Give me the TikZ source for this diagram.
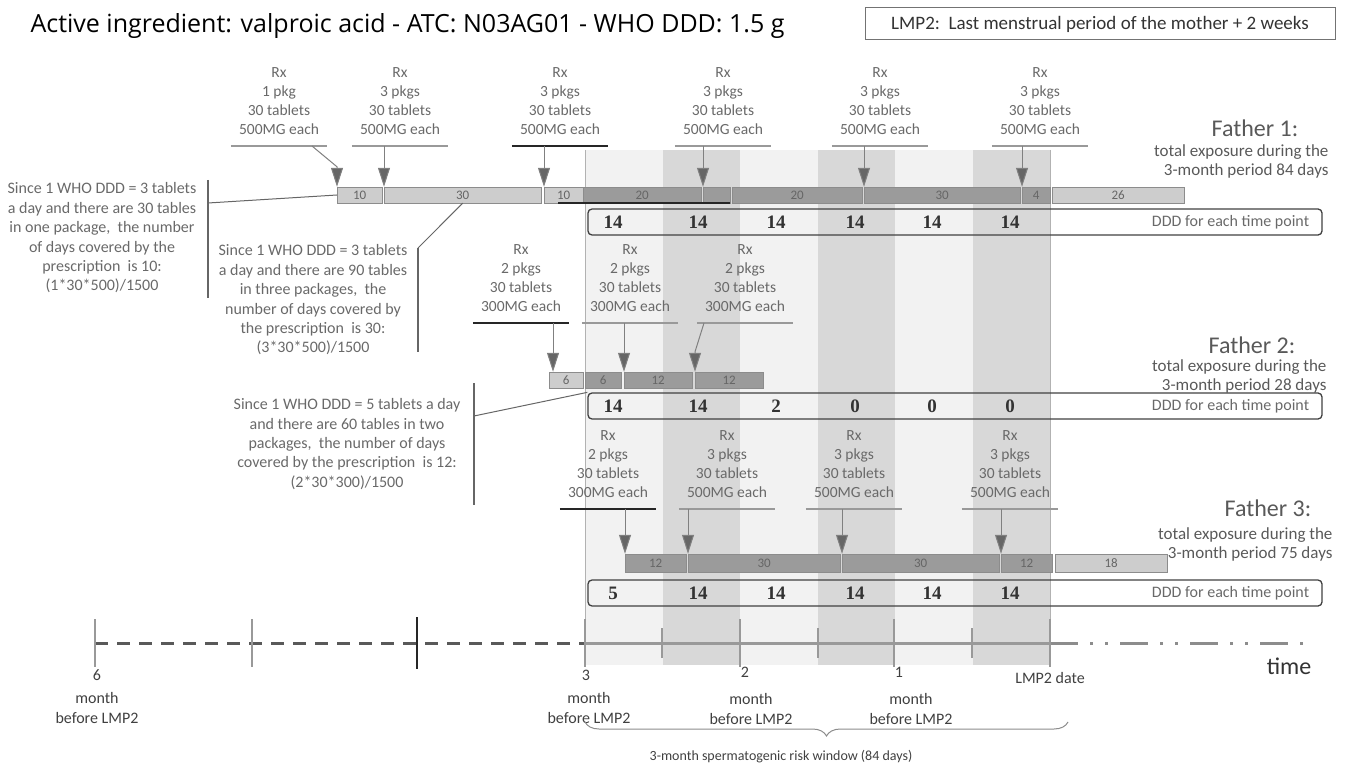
\documentclass[tikz,border=0pt]{standalone}
\usepackage{fontspec}
\setmainfont{Carlito}
\newfontfamily\titlefont{Open Sans}
\newfontfamily\numfont{Liberation Serif}
\usetikzlibrary{arrows.meta, positioning, decorations.pathreplacing}
\definecolor{bandlight}{RGB}{242,242,242}
\definecolor{bandshade}{RGB}{216,216,216}
\definecolor{barlight}{RGB}{205,205,205}
\definecolor{bardark}{RGB}{155,155,155}
\definecolor{textgray}{RGB}{105,105,105}

\begin{document}
\begin{tikzpicture}[x=1pt, y=-1pt,
  rxlabel/.style={font=\fontsize{15.5}{19}\selectfont, text=textgray, align=center, anchor=south,
                  inner xsep=0pt, inner ysep=11pt, minimum width=96pt},
  rxline/.style={draw=black!40, line width=1.2pt},
  rxlinedark/.style={draw=black!85, line width=1.2pt},
  rxarrow/.style={draw=black!50, line width=1pt, -{Triangle[width=12pt, length=19pt, fill=black!60]}},
  seglight/.style={draw=black!45, fill=barlight, anchor=west, minimum height=16pt, inner sep=0pt,
                   font=\fontsize{13}{13}\selectfont, text=black!60},
  segdark/.style={seglight, fill=bardark},
  dddbox/.style={draw=black!75, line width=1.3pt, rounded corners=4pt, minimum width=734pt,
                 minimum height=26pt, inner sep=0pt},
  dddval/.style={font=\numfont\bfseries\fontsize{19}{19}\selectfont, text=black!80},
  dddtxt/.style={font=\fontsize{16}{16}\selectfont, text=textgray, anchor=east},
  note/.style={font=\fontsize{16}{19.4}\selectfont, text=textgray, align=center},
  noteline/.style={draw=black!60, line width=1.2pt},
  fathertitle/.style={font=\fontsize{24}{24}\selectfont, text=black!65},
  fathertxt/.style={font=\fontsize{17}{19}\selectfont, text=black!65, align=right, anchor=east},
  ticknum/.style={font=\fontsize{16}{16}\selectfont, text=black!75},
  ticklabel/.style={font=\fontsize{16}{20}\selectfont, text=black!75, align=center}
]
\useasboundingbox (0,0) rectangle (1346,767);

% risk window bands
\foreach \i in {0,...,5} {
  \pgfmathsetmacro{\bx}{585+77.5*\i}
  \ifodd\i \def\bc{bandshade}\else\def\bc{bandlight}\fi
  \fill[\bc] (\bx,150) rectangle ++(77.5,515);
}
\draw[black!30, line width=1pt] (585,150) -- (585,665);
\draw[black!30, line width=1pt] (1050,150) -- (1050,665);

\node[anchor=base west, font=\titlefont\fontsize{25}{25}\selectfont] (title) at (27,33)
  {Active ingredient: valproic acid - ATC: N03AG01 - WHO DDD: 1.5 g};
\node[draw=black!55, line width=1pt, minimum width=470pt, minimum height=32pt, inner sep=0pt,
      font=\fontsize{19}{19}\selectfont, text=black!80] (lmp) at (1100,24)
  {LMP2:\ \ Last menstrual period of the mother + 2 weeks};

% father 1
\node[rxlabel] (rx11) at (279,146) {Rx\\1 pkg\\30 tablets\\500MG each};
\node[rxlabel] (rx12) at (400,146) {Rx\\3 pkgs\\30 tablets\\500MG each};
\node[rxlabel] (rx13) at (560,146) {Rx\\3 pkgs\\30 tablets\\500MG each};
\node[rxlabel] (rx14) at (723,146) {Rx\\3 pkgs\\30 tablets\\500MG each};
\node[rxlabel] (rx15) at (880,146) {Rx\\3 pkgs\\30 tablets\\500MG each};
\node[rxlabel] (rx16) at (1040,146) {Rx\\3 pkgs\\30 tablets\\500MG each};
\foreach \n in {rx11,rx12,rx14,rx15,rx16}
  \draw[rxline] (\n.south west) -- (\n.south east);
\draw[rxlinedark] (rx13.south west) -- (rx13.south east);

\node[seglight, minimum width=45pt] (f1a) at (337,195) {10};
\node[seglight, minimum width=157pt] (f1b) at (384,195) {30};
\node[seglight, minimum width=39pt] (f1c) at (544,195) {10};
\node[segdark, minimum width=118pt] (f1d) at (583,195) {20};
\node[segdark, minimum width=27pt] (f1e) at (703,195) {};
\node[segdark, minimum width=130pt] (f1f) at (732,195) {20};
\node[segdark, minimum width=156pt] (f1g) at (864,195) {30};
\node[segdark, minimum width=28pt] (f1h) at (1022,195) {4};
\node[seglight, minimum width=132pt] (f1i) at (1052,195) {26};
\draw[black!85, line width=1.5pt] ([xshift=14pt]f1c.south west) -- (f1e.south east);

\draw[rxarrow] ([xshift=33pt]rx11.south) -- ([yshift=20pt]f1a.north west) -- (f1a.north west);
\draw[rxarrow] (f1b.north west |- rx12.south) -- (f1b.north west);
\draw[rxarrow] (f1c.north west |- rx13.south) -- (f1c.north west);
\draw[rxarrow] (f1e.north west |- rx14.south) -- (f1e.north west);
\draw[rxarrow] (f1g.north west |- rx15.south) -- (f1g.north west);
\draw[rxarrow] (f1h.north west |- rx16.south) -- (f1h.north west);

\node[dddbox] (ddd1) at (955,222) {};
\foreach \x/\v [count=\i] in {613/14,698/14,776/14,855/14,932/14,1010/14}
  \node[dddval] (v1\i) at (\x,222) {\v};
\node[dddtxt] (ddd1t) at ([xshift=-10pt]ddd1.east) {DDD for each time point};

\node[fathertitle] (fa1) at (1255,128) {Father 1:};
\node[fathertxt] (fa1t) at (1332,161) {total exposure during the\\3-month period 84 days};

% notes on the left
\node[note] (annA) at (102,238) {Since 1 WHO DDD = 3 tablets\\a day and there are 30 tables\\in one package,\ \ the number\\of days covered by the\\prescription\ \ is 10:\\(1*30*500)/1500};
\coordinate (annAtop) at (208,180);
\coordinate (annAbot) at (208,298);
\coordinate (annAtap) at (208,203);
\draw[noteline] (annAtop) -- (annAbot);
\draw[noteline, line width=1pt] (annAtap) -- (f1a.west);

\node[note] (annB) at (313,300) {Since 1 WHO DDD = 3 tablets\\a day and there are 90 tables\\in three packages,\ \ the\\number of days covered by\\the prescription\ \ is 30:\\(3*30*500)/1500};
\coordinate (annBtop) at (418,248);
\coordinate (annBbot) at (418,352);
\draw[noteline] (annBtop) -- (annBbot);
\draw[noteline, line width=1pt] (annBtop) -- (f1b.south);

% father 2
\node[rxlabel] (rx21) at (521,323) {Rx\\2 pkgs\\30 tablets\\300MG each};
\node[rxlabel] (rx22) at (630,323) {Rx\\2 pkgs\\30 tablets\\300MG each};
\node[rxlabel] (rx23) at (745,323) {Rx\\2 pkgs\\30 tablets\\300MG each};
\draw[rxlinedark] (rx21.south west) -- (rx21.south east);
\draw[rxline] (rx22.south west) -- (rx22.south east);
\draw[rxline] (rx23.south west) -- (rx23.south east);

\node[seglight, minimum width=34pt] (f2a) at (549,380) {6};
\node[segdark, minimum width=36pt] (f2b) at (585,380) {6};
\node[segdark, minimum width=68pt] (f2c) at (624,380) {12};
\node[segdark, minimum width=68pt] (f2d) at (695,380) {12};

\coordinate (f2tip) at ([xshift=4pt]f2a.north west);
\draw[rxarrow] (f2tip |- rx21.south) -- (f2tip);
\draw[rxarrow] (f2c.north west |- rx22.south) -- (f2c.north west);
\draw[rxarrow] ([xshift=-41pt]rx23.south) -- ([yshift=20pt]f2d.north west) -- (f2d.north west);

\node[dddbox] (ddd2) at (955,406) {};
\foreach \x/\v [count=\i] in {613/14,698/14,776/2,855/0,932/0,1010/0}
  \node[dddval] (v2\i) at (\x,406) {\v};
\node[dddtxt] (ddd2t) at ([xshift=-10pt]ddd2.east) {DDD for each time point};

\node[fathertitle] (fa2) at (1252,345) {Father 2:};
\node[fathertxt] (fa2t) at (1330,376) {total exposure during the\\3-month period 28 days};

\node[note] (annC) at (347,444) {Since 1 WHO DDD = 5 tablets a day\\and there are 60 tables in two\\packages,\ \ the number of days\\covered by the prescription\ \ is 12:\\(2*30*300)/1500};
\coordinate (annCtop) at (474,383);
\coordinate (annCbot) at (474,505);
\coordinate (annCtap) at (474,416);
\draw[noteline] (annCtop) -- (annCbot);
\draw[noteline, line width=1pt] (annCtap) -- (ddd2.north west);

% father 3
\node[rxlabel] (rx31) at (608,509) {Rx\\2 pkgs\\30 tablets\\300MG each};
\node[rxlabel] (rx32) at (727,509) {Rx\\3 pkgs\\30 tablets\\500MG each};
\node[rxlabel] (rx33) at (854,509) {Rx\\3 pkgs\\30 tablets\\500MG each};
\node[rxlabel] (rx34) at (1010,509) {Rx\\3 pkgs\\30 tablets\\500MG each};
\draw[rxlinedark] (rx31.south west) -- (rx31.south east);
\foreach \n in {rx32,rx33,rx34}
  \draw[rxline] (\n.south west) -- (\n.south east);

\node[segdark, minimum width=61pt, minimum height=18pt] (f3a) at (625,563) {12};
\node[segdark, minimum width=152pt, minimum height=18pt] (f3b) at (688,563) {30};
\node[segdark, minimum width=157pt, minimum height=18pt] (f3c) at (842,563) {30};
\node[segdark, minimum width=51pt, minimum height=18pt] (f3d) at (1001,563) {12};
\node[seglight, minimum width=112pt, minimum height=18pt] (f3e) at (1055,563) {18};

\draw[rxarrow] (f3a.north west |- rx31.south) -- (f3a.north west);
\draw[rxarrow] (f3b.north west |- rx32.south) -- (f3b.north west);
\draw[rxarrow] (f3c.north west |- rx33.south) -- (f3c.north west);
\draw[rxarrow] (f3d.north west |- rx34.south) -- (f3d.north west);

\node[dddbox] (ddd3) at (955,593) {};
\foreach \x/\v [count=\i] in {613/5,698/14,776/14,855/14,932/14,1010/14}
  \node[dddval] (v3\i) at (\x,593) {\v};
\node[dddtxt] (ddd3t) at ([xshift=-10pt]ddd3.east) {DDD for each time point};

\node[fathertitle] (fa3) at (1268,508) {Father 3:};
\node[fathertxt] (fa3t) at (1336,544) {total exposure during the\\3-month period 75 days};

% time axis
\coordinate (ax6) at (95,643);
\coordinate (ax3) at (585,643);
\coordinate (ax0) at (1050,643);
\coordinate (axend) at (1305,643);
\draw[black!65, line width=3pt, dash pattern=on 13pt off 9pt] (ax6) -- (ax3);
\draw[black!40, line width=3pt] (ax3) -- (ax0);
\draw[black!45, line width=3pt, dash pattern=on 28pt off 12pt on 3pt off 12pt on 3pt off 12pt] (ax0) -- (axend);
\foreach \x/\h/\c in {95/24/black!40, 252/24/black!40, 417/26/black!85, 585/24/black!40,
                      662/15/black!40, 740/24/black!40, 818/15/black!40, 894/24/black!40,
                      972/15/black!40, 1050/24/black!40}
  \draw[\c, line width=2pt] (\x,643-\h) -- (\x,643+\h);

\node[ticknum] (tk6) at (97,675) {6};
\node[ticklabel] (tl6) at (97,708) {month\\before LMP2};
\node[ticknum] (tk3) at (586,675) {3};
\node[ticklabel] (tl3) at (589,708) {month\\before LMP2};
\node[ticknum] (tk2) at (745,672) {2};
\node[ticklabel] (tl2) at (751,709) {month\\before LMP2};
\node[ticknum] (tk1) at (899,672) {1};
\node[ticklabel] (tl1) at (911,709) {month\\before LMP2};
\node[ticklabel] (tk0) at (1050,678) {LMP2 date};
\node[font=\fontsize{24}{24}\selectfont, text=black!80] (timelbl) at (1289,666) {time};

\coordinate (winR) at (1068,722);
\coordinate (winL) at (585,722);
\draw[black!45, line width=1pt, decorate, decoration={brace, amplitude=14pt}] (winR) -- (winL);
\node[font=\fontsize{14}{14}\selectfont, text=black!75] (winlbl) at (781,757)
  {3-month spermatogenic risk window (84 days)};
\end{tikzpicture}
\end{document}
